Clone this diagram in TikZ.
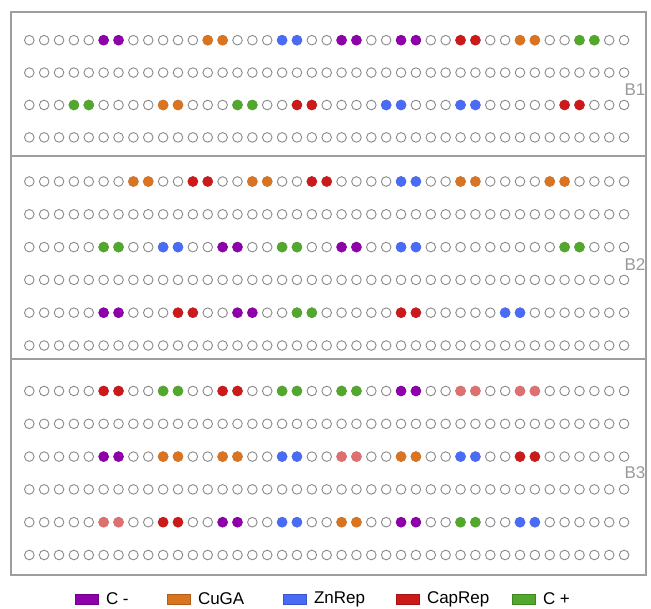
\documentclass[tikz,border=0pt]{standalone}
\usepackage{fontspec}
\setmainfont{Liberation Sans}
\usepackage{tikz}
\usepackage{xcolor}
\usetikzlibrary{positioning}

\definecolor{cneg}{HTML}{8E00AA}
\definecolor{cuga}{HTML}{DA7420}
\definecolor{znrep}{HTML}{4A6BF5}
\definecolor{caprep}{HTML}{CC1A1A}
\definecolor{cpos}{HTML}{52A82C}
\definecolor{capfade}{HTML}{DE7070}
\definecolor{wellgray}{HTML}{8A8A8A}
\definecolor{taggray}{HTML}{9A9A9A}
\definecolor{framegray}{HTML}{9E9E9E}

% two filled wells side by side, starting at column \c
\newcommand{\hits}[3]{%
  \foreach \c/\col in {#3} {
    \node[hit=\col] (#1-\c a) at ({29.3+14.87*\c},#2) {};
    \node[hit=\col] (#1-\c b) at ({29.3+14.87*(\c+1)},#2) {};
  }%
}

\begin{document}
\begin{tikzpicture}[
          x=1pt, y=-1pt,
          well/.style={circle, draw=wellgray, line width=0.9pt, fill=white,
                       minimum size=9.6pt, inner sep=0pt},
          hit/.style={well, draw=#1, fill=#1},
          frame/.style={draw=framegray, line width=1.2pt},
          tag/.style={font=\fontsize{17}{20}\selectfont, text=taggray},
          swatch/.style={draw=#1!80!black, fill=#1, line width=0.4pt,
                         minimum width=23.6pt, minimum height=10.5pt, inner sep=0pt},
          key/.style={font=\fontsize{17}{20}\selectfont, inner sep=0pt, anchor=west}
      ]
        \useasboundingbox (0,0) rectangle (651,609);
        \fill[white] (0,0) rectangle (651,609);

        % panels
        \draw[frame] (11,12) rectangle (646,575);
        \draw[frame] (11,156) -- (646,156);
        \draw[frame] (11,359) -- (646,359);

        % empty wells
        \foreach \p/\ys in {1/{40.2,72.6,105,137.4},
                            2/{181.5,214.3,247.1,279.9,312.7,345.5},
                            3/{391,423.8,456.6,489.4,522.2,555}}
          \foreach \y [count=\r] in \ys
            \foreach \c in {0,...,40}
              \node[well] (w\p-\r-\c) at ({29.3+14.87*\c},\y) {};

        % B1
        \hits{h1-1}{40.2}{5/cneg,12/cuga,17/znrep,21/cneg,25/cneg,29/caprep,33/cuga,37/cpos}
        \hits{h1-3}{105}{3/cpos,9/cuga,14/cpos,18/caprep,24/znrep,29/znrep,36/caprep}
        % B2
        \hits{h2-1}{181.5}{7/cuga,11/caprep,15/cuga,19/caprep,25/znrep,29/cuga,35/cuga}
        \hits{h2-3}{247.1}{5/cpos,9/znrep,13/cneg,17/cpos,21/cneg,25/znrep,36/cpos}
        \hits{h2-5}{312.7}{5/cneg,10/caprep,14/cneg,18/cpos,25/caprep,32/znrep}
        % B3
        \hits{h3-1}{391}{5/caprep,9/cpos,13/caprep,17/cpos,21/cpos,25/cneg,29/capfade,33/capfade}
        \hits{h3-3}{456.6}{5/cneg,9/cuga,13/cuga,17/znrep,21/capfade,25/cuga,29/znrep,33/caprep}
        \hits{h3-5}{522.2}{5/capfade,9/caprep,13/cneg,17/znrep,21/cuga,25/cneg,29/cpos,33/znrep}

        \node[tag] (lb1) at (635,90) {B1};
        \node[tag] (lb2) at (635,265) {B2};
        \node[tag] (lb3) at (635,473) {B3};

        % legend
        \node[swatch=cneg] (k1) at (86.8,599) {};
        \node[key, right=7pt of k1] (t1) {C -};
        \node[swatch=cuga] (k2) at (178.8,599) {};
        \node[key, right=7pt of k2] (t2) {CuGA};
        \node[swatch=znrep] (k3) at (294.8,599) {};
        \node[key, right=7pt of k3] (t3) {ZnRep};
        \node[swatch=caprep] (k4) at (407.8,599) {};
        \node[key, right=7pt of k4] (t4) {CapRep};
        \node[swatch=cpos] (k5) at (523.8,599) {};
        \node[key, right=7pt of k5] (t5) {C +};
      \end{tikzpicture}
\end{document}
